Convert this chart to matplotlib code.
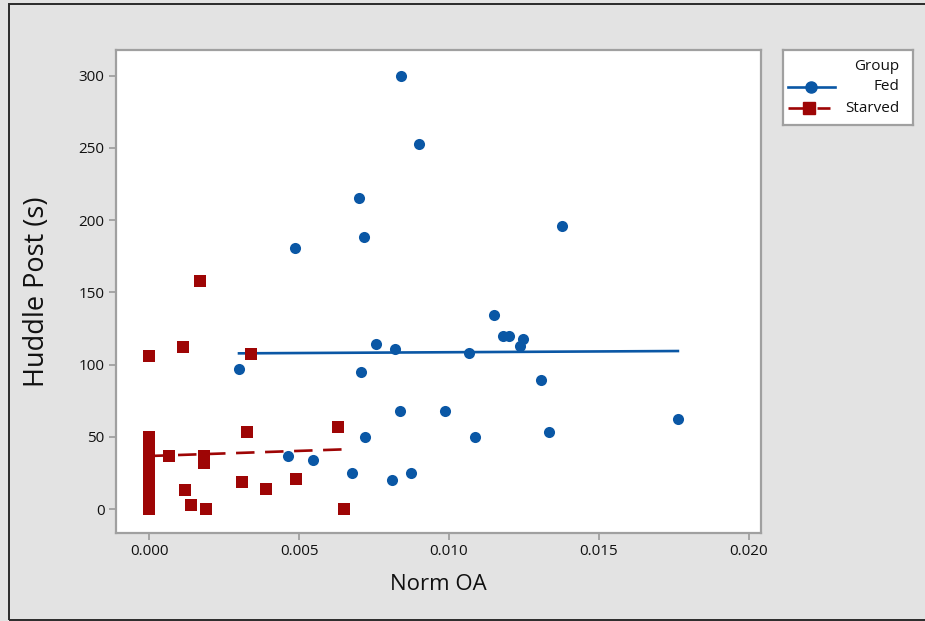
import matplotlib
matplotlib.use('Agg')
import matplotlib.pyplot as plt
import numpy as np
from matplotlib.patches import Rectangle
from matplotlib.lines import Line2D

plt.rcParams['font.family'] = ['Open Sans', 'DejaVu Sans']

# Fed group
fed_x = [0.0084, 0.0090, 0.0070, 0.00717, 0.00487, 0.01377, 0.0115, 0.01180,
         0.0120, 0.01247, 0.01237, 0.00757, 0.0082, 0.01067, 0.0030, 0.00707,
         0.01307, 0.00837, 0.00987, 0.01763, 0.01333, 0.0072, 0.01087, 0.00463,
         0.00547, 0.00677, 0.00873, 0.0081]
fed_y = [300, 253, 215, 188, 181, 196, 134, 120,
         120, 118, 113, 114, 111, 108, 97, 95,
         89, 68, 68, 62, 53, 50, 50, 37,
         34, 25, 25, 20]

# Starved group
starved_x = [0.0, 0.00113, 0.0017, 0.0034, 0.00327, 0.0063, 0.00067, 0.00183,
             0.00183, 0.0012, 0.0014, 0.0019, 0.0031, 0.0039, 0.0049, 0.0065,
             0.0, 0.0, 0.0, 0.0, 0.0, 0.0, 0.0, 0.0, 0.0, 0.0, 0.0, 0.0,
             0.0, 0.0, 0.0, 0.0, 0.0, 0.0]
starved_y = [106, 112, 158, 107, 53, 57, 37, 37,
             32, 13, 3, 0, 19, 14, 21, 0,
             0, 3, 6, 9, 12, 15, 18, 21, 24, 27, 30, 33,
             36, 39, 42, 45, 48, 50]

# fitted lines: intercept, slope
fed_fit = (107.45, 110.0)
starved_fit = (36.7, 710.0)

x_ticks = [0.000, 0.005, 0.010, 0.015, 0.020]
y_ticks = [0, 50, 100, 150, 200, 250, 300]

blue = '#0a57a5'
red = '#9e0505'
spine_gray = '#a0a0a0'
txt = '#111111'

fig = plt.figure(figsize=(9.25, 6.21), dpi=100, facecolor='#e3e3e3')

# outer frame of the screenshot
fig.patches.append(Rectangle((9 / 925, 1 / 621), 1.0, 616 / 621,
                             transform=fig.transFigure, fill=False,
                             edgecolor='#2a2a2a', linewidth=1.4))

ax = fig.add_axes([0.1251, 0.1417, 0.6976, 0.7778])
ax.set_facecolor('white')

ax.scatter(fed_x, fed_y, s=64, marker='o', color=blue, zorder=3, linewidths=0)
ax.scatter(starved_x, starved_y, s=70, marker='s', color=red, zorder=3, linewidths=0)

fx = np.array([min(fed_x), max(fed_x)])
ax.plot(fx, fed_fit[0] + fed_fit[1] * fx, color=blue, lw=1.9, zorder=2)
sx = np.array([min(starved_x), max(starved_x)])
ax.plot(sx, starved_fit[0] + starved_fit[1] * sx, color=red, lw=1.9,
        dashes=(7, 4), zorder=2)

ax.set_xlim(-0.00111, 0.0204)
ax.set_ylim(-16.6, 317.8)
ax.set_xticks(x_ticks)
ax.set_xticklabels([f'{v:.3f}' for v in x_ticks])
ax.set_yticks(y_ticks)
ax.tick_params(direction='out', length=5, width=1.3, color=spine_gray,
               labelsize=11, labelcolor=txt, pad=3)
for s in ax.spines.values():
    s.set_color(spine_gray)
    s.set_linewidth(1.6)

ax.set_xlabel('Norm OA', fontsize=16, labelpad=11, color=txt)
ax.set_ylabel('Huddle Post (s)', fontsize=19.5, labelpad=20, color=txt)

# legend box, Minitab style with right-aligned labels
lg = fig.add_axes([783 / 925, 1 - 125 / 621, 130 / 925, 75 / 621])
lg.set_xlim(0, 130)
lg.set_ylim(75, 0)
lg.set_xticks([])
lg.set_yticks([])
for s in lg.spines.values():
    s.set_color(spine_gray)
    s.set_linewidth(1.6)
lg.text(116, 16, 'Group', ha='right', va='center', fontsize=11, color=txt)
lg.text(116, 37, 'Fed', ha='right', va='center', fontsize=11, color=txt)
lg.text(116, 58, 'Starved', ha='right', va='center', fontsize=11, color=txt)
lg.add_line(Line2D([5, 52], [37, 37], color=blue, lw=1.9))
lg.add_line(Line2D([28], [37], marker='o', ms=8, color=blue, mec=blue))
lg.add_line(Line2D([5, 47], [58, 58], color=red, lw=1.9, dashes=(7, 4)))
lg.add_line(Line2D([26], [58], marker='s', ms=8, color=red, mec=red))

fig.savefig('out.png', dpi=100, facecolor=fig.get_facecolor())
